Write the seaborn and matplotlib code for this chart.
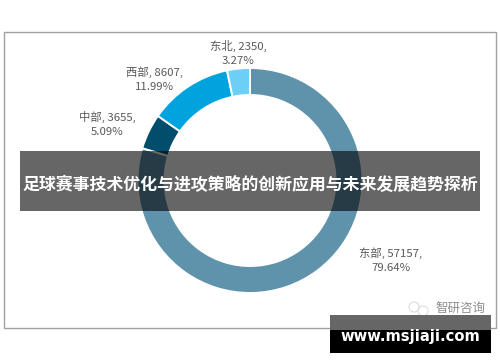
import matplotlib
matplotlib.use('Agg')
import matplotlib.pyplot as plt
from matplotlib.patches import Circle, Rectangle
import seaborn as sns

regions = ['东部', '中部', '西部', '东北']
values = [57157, 3655, 8607, 2350]
percents = ['79.64%', '5.09%', '11.99%', '3.27%']
colors = ['#5F93AC', '#004E6B', '#00A3DD', '#6DCFF6']
title = '足球赛事技术优化与进攻策略的创新应用与未来发展趋势探析'
footer = 'www.msjiaji.com'
watermark = '智研咨询'

sns.set_theme(style='white')
plt.rcParams['font.family'] = ['Noto Sans CJK SC', 'DejaVu Sans']

W, H = 500, 362
fig = plt.figure(figsize=(W / 100, H / 100), dpi=100, facecolor='white')

# pixel coordinate overlay, y going down like the picture
bg = fig.add_axes([0, 0, 1, 1])
bg.set_xlim(0, W)
bg.set_ylim(H, 0)
bg.axis('off')
bg.add_patch(Rectangle((3.5, 32), 492.5, 296, fill=False, ec='#a0a0a0', lw=1.0))

# donut centre and outer radius in pixels
cx, cy, r = 250, 180.5, 112.5
ax = fig.add_axes([(cx - r) / W, 1 - (cy + r) / H, 2 * r / W, 2 * r / H])
ax.pie(values, colors=colors, startangle=90, counterclock=False, radius=1,
       wedgeprops={'width': 0.24, 'edgecolor': 'white', 'linewidth': 1.4})
ax.set_xlim(-1, 1)
ax.set_ylim(-1, 1)

top = fig.add_axes([0, 0, 1, 1])
top.set_xlim(0, W)
top.set_ylim(H, 0)
top.axis('off')
top.patch.set_alpha(0)

label_pos = [(391, 260), (107, 124), (155, 79.5), (238, 53)]
for name, val, pct, (x, y) in zip(regions, values, percents, label_pos):
    top.text(x, y, f'{name}, {val},\n{pct}', ha='center', va='center', fontsize=8.2,
             color='#595959', linespacing=1.5)

top.add_patch(Rectangle((20, 151), 460, 60, fc='black', alpha=0.6, ec='none'))
top.text(250, 185, title, ha='center', va='center', fontsize=12.2, color='white',
         fontweight='bold')

# wechat style mark and source name
top.add_patch(Circle((414, 307), 5, fill=False, ec='#dcdcdc', lw=0.8))
top.add_patch(Circle((423, 311), 5, fill=False, ec='#dcdcdc', lw=0.8))
top.text(460, 308.5, watermark, ha='center', va='center', fontsize=9, color='#8c8c8c')

top.add_patch(Rectangle((330, 315), 161, 15, fc='#666666', ec='none'))
top.add_patch(Rectangle((330, 330), 161, 23, fc='black', ec='none'))
top.text(410, 337, footer, ha='center', va='center', fontsize=10.6, color='white',
         fontweight='bold', family='DejaVu Sans')

fig.savefig('out.png', dpi=100)
